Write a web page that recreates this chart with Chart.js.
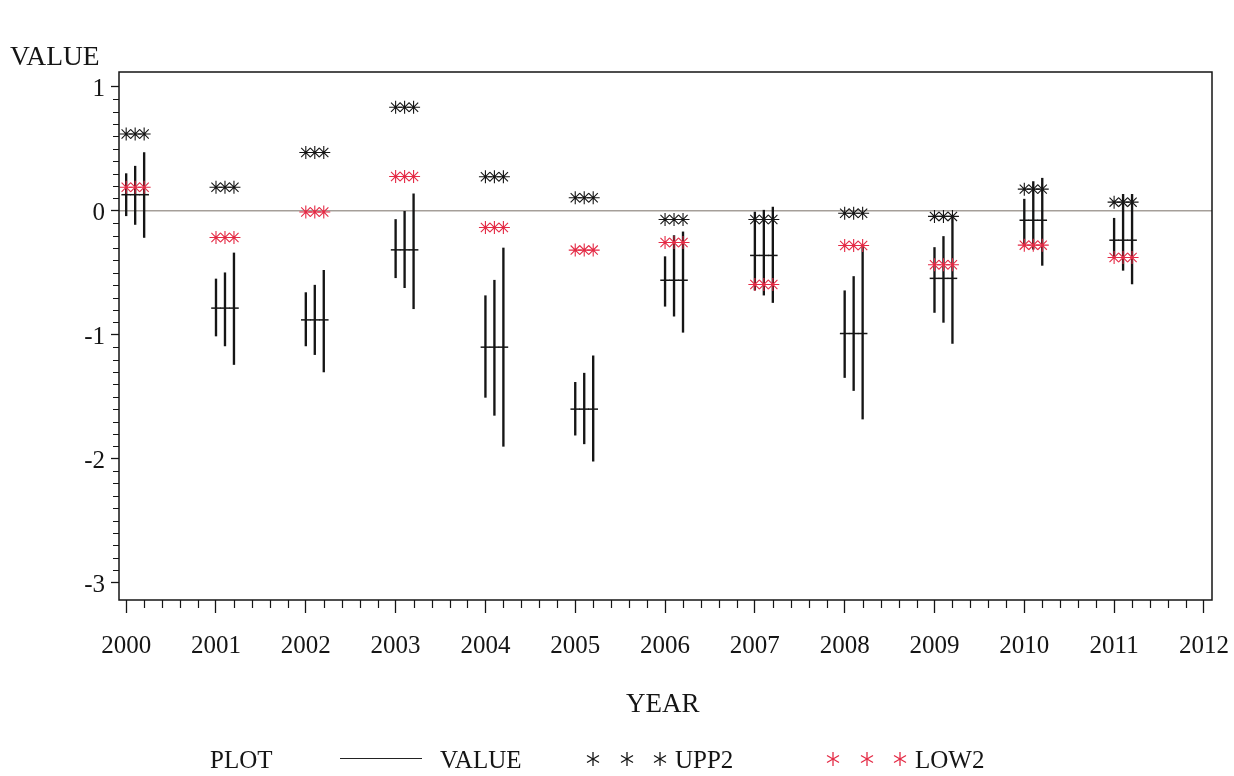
<!DOCTYPE html>
<html>
<head>
<meta charset="utf-8">
<script src="https://cdn.jsdelivr.net/npm/chart.js@4.4.1/dist/chart.umd.min.js"></script>
<style>
  html, body { margin: 0; padding: 0; background: #fff; }
  #wrap { position: relative; width: 1234px; height: 776px; overflow: hidden;
          font-family: "Liberation Serif", "Times New Roman", serif; color: #151515; }
  #c { position: absolute; left: 0; top: 0; }
  .t { position: absolute; white-space: nowrap; line-height: 1; }
  .st { position: absolute; width: 16px; height: 16px; margin-left: -8px; }
</style>
</head>
<body>
<div id="wrap">
  <canvas id="c" width="1234" height="776"></canvas>
  <div class="t" style="left:10px;top:42px;font-size:27.5px;">VALUE</div>
  <div class="t" style="left:626px;top:690px;font-size:27px;">YEAR</div>

  <div class="t" style="left:210px;top:747px;font-size:25px;">PLOT</div>
  <div style="position:absolute;left:340px;top:758px;width:82px;border-top:1.4px solid #222;"></div>
  <div class="t" style="left:440px;top:747px;font-size:25px;">VALUE</div>
  <svg class="st" style="left:593px;top:751px;" viewBox="-8 -8 16 16"><g stroke="#151515" stroke-width="1.3"><line x1="0" y1="-7" x2="0" y2="7"/><line x1="-6" y1="-3.5" x2="6" y2="3.5"/><line x1="-6" y1="3.5" x2="6" y2="-3.5"/></g></svg>
  <svg class="st" style="left:627px;top:751px;" viewBox="-8 -8 16 16"><g stroke="#151515" stroke-width="1.3"><line x1="0" y1="-7" x2="0" y2="7"/><line x1="-6" y1="-3.5" x2="6" y2="3.5"/><line x1="-6" y1="3.5" x2="6" y2="-3.5"/></g></svg>
  <svg class="st" style="left:660px;top:751px;" viewBox="-8 -8 16 16"><g stroke="#151515" stroke-width="1.3"><line x1="0" y1="-7" x2="0" y2="7"/><line x1="-6" y1="-3.5" x2="6" y2="3.5"/><line x1="-6" y1="3.5" x2="6" y2="-3.5"/></g></svg>
  <div class="t" style="left:675px;top:747px;font-size:25px;">UPP2</div>
  <svg class="st" style="left:833px;top:751px;" viewBox="-8 -8 16 16"><g stroke="#e42a45" stroke-width="1.3"><line x1="0" y1="-7" x2="0" y2="7"/><line x1="-6" y1="-3.5" x2="6" y2="3.5"/><line x1="-6" y1="3.5" x2="6" y2="-3.5"/></g></svg>
  <svg class="st" style="left:867px;top:751px;" viewBox="-8 -8 16 16"><g stroke="#e42a45" stroke-width="1.3"><line x1="0" y1="-7" x2="0" y2="7"/><line x1="-6" y1="-3.5" x2="6" y2="3.5"/><line x1="-6" y1="3.5" x2="6" y2="-3.5"/></g></svg>
  <svg class="st" style="left:900px;top:751px;" viewBox="-8 -8 16 16"><g stroke="#e42a45" stroke-width="1.3"><line x1="0" y1="-7" x2="0" y2="7"/><line x1="-6" y1="-3.5" x2="6" y2="3.5"/><line x1="-6" y1="3.5" x2="6" y2="-3.5"/></g></svg>
  <div class="t" style="left:915px;top:747px;font-size:25px;">LOW2</div>
</div>

<script>
// ---- data -------------------------------------------------------------
const years = [2000, 2001, 2002, 2003, 2004, 2005, 2006, 2007, 2008, 2009, 2010, 2011];
const subPositions = [0, 0.1, 0.2];           // three runs per year, plotted side by side
const yearTicks = [2000, 2001, 2002, 2003, 2004, 2005, 2006, 2007, 2008, 2009, 2010, 2011, 2012];
const valueTicks = [-3, -2, -1, 0, 1];

const valueMean = [0.13, -0.785, -0.88, -0.315, -1.10, -1.60, -0.56, -0.36, -0.99, -0.545, -0.076, -0.237];
const upp2 = [0.62, 0.19, 0.47, 0.835, 0.275, 0.105, -0.07, -0.07, -0.02, -0.045, 0.175, 0.07];
const low2 = [0.19, -0.215, -0.01, 0.277, -0.135, -0.317, -0.256, -0.594, -0.28, -0.435, -0.277, -0.377];

// low / high extent of each run (A = year, B = year + 0.1, C = year + 0.2)
const lowA  = [-0.04, -1.01, -1.09, -0.54, -1.505, -1.81, -0.77, -0.64, -1.345, -0.82, -0.28, -0.38];
const highA = [0.30, -0.55, -0.66, -0.07, -0.685, -1.384, -0.37, -0.01, -0.645, -0.296, 0.094, -0.06];
const lowB  = [-0.11, -1.09, -1.16, -0.62, -1.65, -1.88, -0.85, -0.68, -1.45, -0.90, -0.31, -0.48];
const highB = [0.36, -0.50, -0.60, 0.0, -0.56, -1.31, -0.20, 0.005, -0.53, -0.207, 0.236, 0.133];
const lowC  = [-0.215, -1.24, -1.30, -0.79, -1.90, -2.02, -0.98, -0.74, -1.68, -1.07, -0.44, -0.59];
const highC = [0.47, -0.34, -0.48, 0.137, -0.30, -1.17, -0.17, 0.03, -0.28, -0.04, 0.263, 0.133];

const referenceValue = 0;

// ---- build point lists --------------------------------------------------
const lows = [lowA, lowB, lowC];
const highs = [highA, highB, highC];
const rangeData = [], meanData = [], uppData = [], lowData = [];
years.forEach((yr, i) => {
  subPositions.forEach((off, k) => {
    const x = yr + off;
    rangeData.push({ x: x, y: [lows[k][i], highs[k][i]] });
    meanData.push({ x: x, y: valueMean[i] });
    uppData.push({ x: x, y: upp2[i] });
    lowData.push({ x: x, y: low2[i] });
  });
});

const INK = '#151515';
const RED = '#e42a45';
const FONT = "'Liberation Serif', 'Times New Roman', serif";

// frame, reference line and minor tick marks
const decorations = {
  id: 'decorations',
  beforeDatasetsDraw(chart) {
    const { ctx, chartArea: a, scales: { y } } = chart;
    const py = y.getPixelForValue(referenceValue);
    ctx.save();
    ctx.strokeStyle = '#a59f99';
    ctx.lineWidth = 1.5;
    ctx.beginPath();
    ctx.moveTo(a.left, py);
    ctx.lineTo(a.right, py);
    ctx.stroke();
    ctx.restore();
  },
  afterDraw(chart) {
    const { ctx, chartArea: a, scales: { x, y } } = chart;
    ctx.save();
    ctx.strokeStyle = INK;
    ctx.lineWidth = 1.5;
    ctx.strokeRect(a.left, a.top, a.right - a.left, a.bottom - a.top);
    ctx.lineWidth = 1.2;
    ctx.beginPath();
    // minor ticks on the year axis, every 0.2 year
    for (let i = 0; i < yearTicks.length - 1; i++) {
      for (let k = 1; k < 5; k++) {
        const px = Math.round(x.getPixelForValue(yearTicks[i] + k * 0.2)) + 0.5;
        ctx.moveTo(px, a.bottom);
        ctx.lineTo(px, a.bottom + 8);
      }
    }
    // minor ticks on the value axis, every 0.1
    for (let i = 0; i < valueTicks.length - 1; i++) {
      for (let k = 1; k < 10; k++) {
        const py = Math.round(y.getPixelForValue(valueTicks[i] + k * 0.1)) + 0.5;
        ctx.moveTo(a.left, py);
        ctx.lineTo(a.left - 6, py);
      }
    }
    ctx.stroke();
    ctx.restore();
  }
};

new Chart(document.getElementById('c'), {
  type: 'bar',
  data: {
    datasets: [
      {
        type: 'scatter', label: 'UPP2', data: uppData,
        pointStyle: 'star', radius: 6.5, hoverRadius: 6.5,
        borderColor: INK, backgroundColor: INK, borderWidth: 1.1, order: 1
      },
      {
        type: 'scatter', label: 'LOW2', data: lowData,
        pointStyle: 'star', radius: 6.5, hoverRadius: 6.5,
        borderColor: RED, backgroundColor: RED, borderWidth: 1.1, order: 2
      },
      {
        type: 'scatter', label: 'VALUE', data: meanData,
        pointStyle: 'line', radius: 4.8, hoverRadius: 4.8,
        borderColor: INK, borderWidth: 1.5, order: 3
      },
      {
        type: 'bar', label: 'VALUE range', data: rangeData,
        backgroundColor: INK, borderWidth: 0, barThickness: 1.7,
        grouped: false, order: 4
      }
    ]
  },
  options: {
    responsive: false,
    animation: false,
    devicePixelRatio: 1,
    layout: { padding: { left: 0, right: 22, top: 72, bottom: 0 } },
    plugins: { legend: { display: false }, tooltip: { enabled: false }, title: { display: false } },
    scales: {
      x: {
        type: 'linear', position: 'bottom', offset: false,
        min: 1999.92, max: 2012.09,
        afterFit(s) { s.height = 176; s.paddingLeft = 0; s.paddingRight = 0; },
        afterBuildTicks(s) { s.ticks = yearTicks.map(v => ({ value: v })); },
        grid: { display: true, offset: false, drawOnChartArea: false, drawTicks: true, tickLength: 13, tickColor: INK, tickWidth: 1.3 },
        border: { display: false },
        ticks: { color: INK, font: { family: FONT, size: 25 }, padding: 18, maxRotation: 0, autoSkip: false,
                 callback: v => String(v) }
      },
      y: {
        type: 'linear', position: 'left',
        min: -3.14, max: 1.12,
        afterFit(s) { s.width = 119; s.paddingTop = 0; s.paddingBottom = 0; },
        afterBuildTicks(s) { s.ticks = valueTicks.map(v => ({ value: v })); },
        grid: { display: true, drawOnChartArea: false, drawTicks: true, tickLength: 8, tickColor: INK, tickWidth: 1.3 },
        border: { display: false },
        ticks: { color: INK, font: { family: FONT, size: 25 }, padding: 6, labelOffset: 3,
                 callback: v => String(v) }
      }
    }
  },
  plugins: [decorations]
});
</script>
</body>
</html>
